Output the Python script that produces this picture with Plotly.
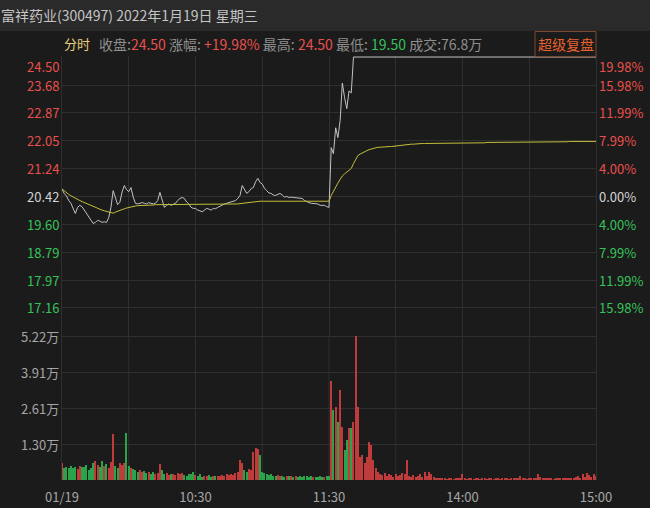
import plotly.graph_objects as go

# ---------------- data ----------------
prev_close = 20.42
minutes = list(range(241))  # 0 = 09:30 ... 120 = 11:30/13:00 ... 240 = 15:00

price = [
    20.64, 20.50, 20.44, 20.30, 20.22, 20.05, 19.92, 20.10, 20.16, 20.12,
    20.02, 19.95, 19.85, 19.75, 19.63, 19.66, 19.72, 19.70, 19.66, 19.68,
    19.66, 19.80, 20.10, 20.59, 20.40, 20.18, 20.25, 20.55, 20.74, 20.62,
    20.56, 20.68, 20.40, 20.22, 20.20, 20.22, 20.24, 20.22, 20.20, 20.24,
    20.22, 20.20, 20.22, 20.30, 20.54, 20.30, 20.10, 20.16, 20.20, 20.16,
    20.18, 20.22, 20.30, 20.36, 20.39, 20.36, 20.26, 20.20, 20.10, 20.07,
    20.07, 20.02, 20.00, 19.97, 20.02, 20.07, 20.05, 20.02, 20.07, 20.06,
    20.10, 20.14, 20.16, 20.20, 20.22, 20.24, 20.26, 20.28, 20.30, 20.36,
    20.45, 20.74, 20.62, 20.51, 20.56, 20.65, 20.68, 20.85, 20.95, 20.83,
    20.78, 20.66, 20.59, 20.52, 20.51, 20.46, 20.45, 20.48, 20.51, 20.46,
    20.40, 20.42, 20.39, 20.40, 20.39, 20.40, 20.38, 20.37, 20.36, 20.30,
    20.26, 20.24, 20.22, 20.22, 20.21, 20.20, 20.16, 20.15, 20.16, 20.12,
    20.10,
    21.85, 21.67, 22.43, 22.14, 22.64, 23.74, 23.31, 22.99, 23.51, 23.45,
    24.50,
] + [24.50] * 109

avg_price = [
    20.64, 20.58, 20.53, 20.48, 20.44, 20.40, 20.36, 20.33, 20.30, 20.27,
    20.24, 20.21, 20.18, 20.15, 20.12, 20.09, 20.06, 20.04, 20.02, 20.00,
    19.98, 19.96, 19.94, 19.93, 19.96, 19.99, 20.01, 20.03, 20.06, 20.08,
    20.10, 20.12, 20.13, 20.14, 20.15, 20.15, 20.16, 20.16, 20.17, 20.17,
    20.17, 20.17, 20.18, 20.18, 20.18, 20.18, 20.18, 20.18, 20.18, 20.18,
    20.18, 20.18, 20.19, 20.19, 20.19, 20.19, 20.19, 20.19, 20.19, 20.19,
    20.19, 20.19, 20.19, 20.19, 20.19, 20.19, 20.19, 20.19, 20.19, 20.19,
    20.19, 20.19, 20.19, 20.19, 20.20, 20.20, 20.20, 20.20, 20.20, 20.20,
    20.21, 20.22, 20.23, 20.23, 20.24, 20.24, 20.25, 20.26, 20.27, 20.28,
    20.28, 20.28, 20.28, 20.28, 20.28, 20.28, 20.28, 20.28, 20.28, 20.28,
    20.28, 20.28, 20.28, 20.28, 20.28, 20.28, 20.28, 20.28, 20.28, 20.28,
    20.28, 20.28, 20.28, 20.28, 20.28, 20.28, 20.28, 20.28, 20.28, 20.28,
    20.28,
    20.45, 20.58, 20.70, 20.81, 20.92, 21.02, 21.08, 21.13, 21.18, 21.24,
    21.38, 21.52, 21.62, 21.66, 21.70, 21.73, 21.76, 21.79, 21.81, 21.83,
    21.85, 21.86,
    21.86, 21.87, 21.87, 21.88, 21.88, 21.88, 21.89, 21.90, 21.91, 21.91,
    21.92, 21.92, 21.93, 21.94, 21.95, 21.95, 21.96, 21.96,
    21.97, 21.97, 21.97, 21.97, 21.97, 21.97, 21.97, 21.97, 21.97, 21.97,
    21.98, 21.98, 21.98, 21.98, 21.98, 21.98, 21.98, 21.98, 21.98, 21.98,
    21.99, 21.99, 21.99, 21.99, 21.99, 21.99, 21.99, 21.99, 21.99, 21.99,
    22.00, 22.00, 22.00, 22.00, 22.00, 22.00, 22.00, 22.00, 22.00, 22.00,
    22.01, 22.01, 22.01, 22.01, 22.01, 22.01, 22.01, 22.01, 22.01, 22.01,
    22.01, 22.01, 22.01, 22.01, 22.01, 22.02, 22.02, 22.02, 22.02, 22.02,
    22.02, 22.02, 22.02, 22.02, 22.02, 22.02, 22.02, 22.03, 22.03, 22.03,
    22.03, 22.03, 22.03, 22.03, 22.03, 22.03, 22.03, 22.03, 22.03, 22.03,
]

volume = [  # 万
    0.63, 0.43, 0.48, 0.45, 0.50, 0.42, 0.46, 0.40, 0.52, 0.48,
    0.47, 0.55, 0.38, 0.45, 0.62, 0.69, 0.55, 0.48, 0.69, 0.52,
    0.58, 0.45, 0.66, 1.67, 0.50, 0.42, 0.60, 0.55, 0.62, 1.70,
    0.52, 0.45, 0.40, 0.35, 0.30, 0.38, 0.28, 0.32, 0.25, 0.30,
    0.22, 0.28, 0.20, 0.26, 0.58, 0.35, 0.22, 0.25, 0.18, 0.20,
    0.22, 0.18, 0.25, 0.20, 0.24, 0.18, 0.15, 0.20, 0.22, 0.29,
    0.18, 0.15, 0.20, 0.12, 0.16, 0.14, 0.18, 0.12, 0.15, 0.13,
    0.16, 0.14, 0.18, 0.15, 0.20, 0.17, 0.22, 0.18, 0.25, 0.30,
    0.72, 0.60, 0.35, 0.30, 0.40, 0.35, 1.00, 1.16, 1.12, 0.90,
    0.30, 0.25, 0.20, 0.18, 0.22, 0.16, 0.15, 0.18, 0.14, 0.16,
    0.12, 0.15, 0.13, 0.16, 0.12, 0.14, 0.11, 0.13, 0.12, 0.15,
    0.13, 0.12, 0.14, 0.10, 0.12, 0.11, 0.13, 0.12, 0.10, 0.14,
    0.15,
    3.59, 2.54, 2.65, 2.10, 3.26, 1.92, 1.09, 1.45, 1.88, 1.88,
    2.10, 5.22, 2.65, 0.83, 0.90, 0.62, 0.83, 1.38, 1.27, 0.72,
    0.43, 0.30, 0.22, 0.18, 0.25, 0.15, 0.20, 0.18, 0.12, 0.22,
    0.15, 0.18, 0.25, 0.20, 0.72, 0.15, 0.12, 0.18, 0.10, 0.15,
    0.22, 0.12, 0.28, 0.15, 0.29, 0.20, 0.10, 0.08, 0.06, 0.05,
    0.04, 0.05, 0.03, 0.04, 0.05, 0.03, 0.04, 0.06, 0.05, 0.22,
    0.04, 0.03, 0.05, 0.04, 0.03, 0.06, 0.04, 0.03, 0.05, 0.04,
    0.03, 0.04, 0.05, 0.03, 0.04, 0.06, 0.03, 0.04, 0.05, 0.04,
    0.03, 0.05, 0.04, 0.08, 0.06, 0.15, 0.05, 0.04, 0.03, 0.05,
    0.04, 0.06, 0.08, 0.20, 0.10, 0.05, 0.04, 0.06, 0.05, 0.04,
    0.03, 0.05, 0.04, 0.06, 0.05, 0.04, 0.06, 0.05, 0.08, 0.06,
    0.10, 0.15, 0.08, 0.22, 0.12, 0.25, 0.18, 0.10, 0.22, 0.15,
]

price_ticks = [24.50, 23.68, 22.87, 22.05, 21.24, 20.42, 19.60, 18.79, 17.97, 17.16]
pct_labels = ["19.98%", "15.98%", "11.99%", "7.99%", "4.00%", "0.00%",
              "4.00%", "7.99%", "11.99%", "15.98%"]
vol_ticks = [1.30, 2.61, 3.91, 5.22]
vol_labels = ["1.30万", "2.61万", "3.91万", "5.22万"]
time_ticks = [0, 60, 120, 180, 240]
time_labels = ["01/19", "10:30", "11:30", "14:00", "15:00"]
grid_minutes = [30, 60, 90, 120, 150, 180, 210]

title_text = "富祥药业(300497) 2022年1月19日 星期三"
close_v, change_v, high_v, low_v, turnover_v = "24.50", "+19.98%", "24.50", "19.50", "76.8万"

# ---------------- styling ----------------
BG = "#1b1b1b"
BAR_BG = "#2a2a2a"
GRID = "#2f2f2f"
RED = "#e8504c"
GREEN = "#36c25a"
GRAY = "#a6a6a6"
FONT = "Noto Sans CJK SC, Noto Sans, sans-serif"

vol_colors = []
for i, p in enumerate(price):
    ref = price[i - 1] if i > 0 else prev_close
    vol_colors.append("#bf3c3c" if p >= ref else "#2aa34a")

fig = go.Figure()
fig.add_trace(go.Scatter(x=minutes, y=price, mode="lines",
                         line=dict(color="#c2c2c2", width=1), xaxis="x", yaxis="y",
                         hoverinfo="skip"))
fig.add_trace(go.Scatter(x=minutes, y=avg_price, mode="lines",
                         line=dict(color="#c4bd3c", width=1), xaxis="x", yaxis="y",
                         hoverinfo="skip"))
fig.add_trace(go.Bar(x=minutes, y=volume, marker=dict(color=vol_colors, line=dict(width=0)),
                     width=0.5, xaxis="x2", yaxis="y2", hoverinfo="skip"))

split = 144 / 424
top_price = price_ticks[0] + 0.03
bot_price = prev_close * 0.8

fig.update_layout(
    width=650, height=508,
    margin=dict(l=62, r=54, t=56, b=28, autoexpand=False),
    paper_bgcolor=BG, plot_bgcolor=BG,
    showlegend=False, bargap=0,
    font=dict(family=FONT, color=GRAY, size=13),
    xaxis=dict(domain=[0, 1], anchor="y", range=[0, 240], tickvals=grid_minutes,
               showticklabels=False, showgrid=True, gridcolor=GRID, gridwidth=1,
               zeroline=False, showline=True, linecolor=GRID, linewidth=1),
    yaxis=dict(domain=[split, 1], anchor="x", range=[bot_price, top_price],
               tickvals=price_ticks[1:], showticklabels=False, showgrid=True,
               gridcolor=GRID, zeroline=False, showline=True, mirror=True,
               linecolor=GRID),
    xaxis2=dict(domain=[0, 1], anchor="y2", range=[0, 240], tickvals=time_ticks,
                ticktext=time_labels, showgrid=False, zeroline=False, showline=False,
                ticks="", ticklabelstandoff=8, automargin=False,
                tickfont=dict(size=13, color=GRAY, family=FONT)),
    yaxis2=dict(domain=[0, split], anchor="x2", range=[0, vol_ticks[-1]],
                tickvals=vol_ticks, showticklabels=False, showgrid=True,
                gridcolor=GRID, zeroline=False, showline=True, mirror=True,
                linecolor=GRID),
)

shapes = []
for gm in grid_minutes:
    shapes.append(dict(type="line", xref="x2", yref="paper", x0=gm, x1=gm, y0=0, y1=split,
                       line=dict(color=GRID, width=1), layer="below"))
shapes.append(dict(type="line", xref="paper", yref="y", x0=0, x1=1, y0=prev_close, y1=prev_close,
                   line=dict(color="#5a5a66", width=1), layer="below"))
shapes.append(dict(type="rect", xref="paper", yref="paper", x0=-62 / 534, x1=(650 - 62) / 534,
                   y0=(480 - 31) / 424, y1=480 / 424 + 0.01, fillcolor=BAR_BG, line=dict(width=0),
                   layer="below"))
shapes.append(dict(type="rect", xref="paper", yref="paper", x0=(535 - 62) / 534, x1=(596 - 62) / 534,
                   y0=(480 - 56.5) / 424, y1=(480 - 31.5) / 424, fillcolor="rgba(0,0,0,0)",
                   line=dict(color="#7a4a32", width=1)))
fig.update_layout(shapes=shapes)

ann = []
for i, (pv, pl) in enumerate(zip(price_ticks, pct_labels)):
    if pv > prev_close + 1e-6:
        col = RED
    elif pv < prev_close - 1e-6:
        col = GREEN
    else:
        col = "#d4d4d4"
    ysh = -9 if i == 0 else 0
    ann.append(dict(xref="paper", yref="y", x=0, y=pv, text=f"{pv:.2f}", showarrow=False,
                    xanchor="right", yanchor="middle", xshift=-1, yshift=ysh,
                    font=dict(size=13, color=col, family=FONT)))
    ann.append(dict(xref="paper", yref="y", x=1, y=pv, text=pl, showarrow=False,
                    xanchor="left", yanchor="middle", xshift=1, yshift=ysh,
                    font=dict(size=13, color=col, family=FONT)))
for vv, vl in zip(vol_ticks, vol_labels):
    ann.append(dict(xref="paper", yref="y2", x=0, y=vv, text=vl, showarrow=False,
                    xanchor="right", yanchor="middle", xshift=-1,
                    font=dict(size=13, color=GRAY, family=FONT)))

ann.append(dict(xref="paper", yref="paper", x=-63 / 534, y=(480 - 15) / 424, text=title_text,
                showarrow=False, xanchor="left", yanchor="middle",
                font=dict(size=14, color="#c4c4c4", family=FONT)))
ann.append(dict(xref="paper", yref="paper", x=0, y=(480 - 44) / 424, text="分时",
                showarrow=False, xanchor="left", yanchor="middle",
                font=dict(size=13, color="#e8d27a", family=FONT)))
info = (f"收盘:<span style='color:{RED}'>{close_v}</span> 涨幅: "
        f"<span style='color:{RED}'>{change_v}</span> 最高: "
        f"<span style='color:{RED}'>{high_v}</span> 最低: "
        f"<span style='color:{GREEN}'>{low_v}</span> 成交:{turnover_v}")
ann.append(dict(xref="paper", yref="paper", x=(97 - 62) / 534, y=(480 - 44) / 424, text=info,
                showarrow=False, xanchor="left", yanchor="middle",
                font=dict(size=14, color="#8f8f8f", family=FONT)))
ann.append(dict(xref="paper", yref="paper", x=(565.5 - 62) / 534, y=(480 - 44) / 424, text="超级复盘",
                showarrow=False, xanchor="center", yanchor="middle",
                font=dict(size=14, color="#e8622e", family=FONT)))
fig.update_layout(annotations=ann)

fig.write_html("out.html", config={"displayModeBar": False},
               post_script="document.body.style.margin='0';document.body.style.overflow='hidden';")
